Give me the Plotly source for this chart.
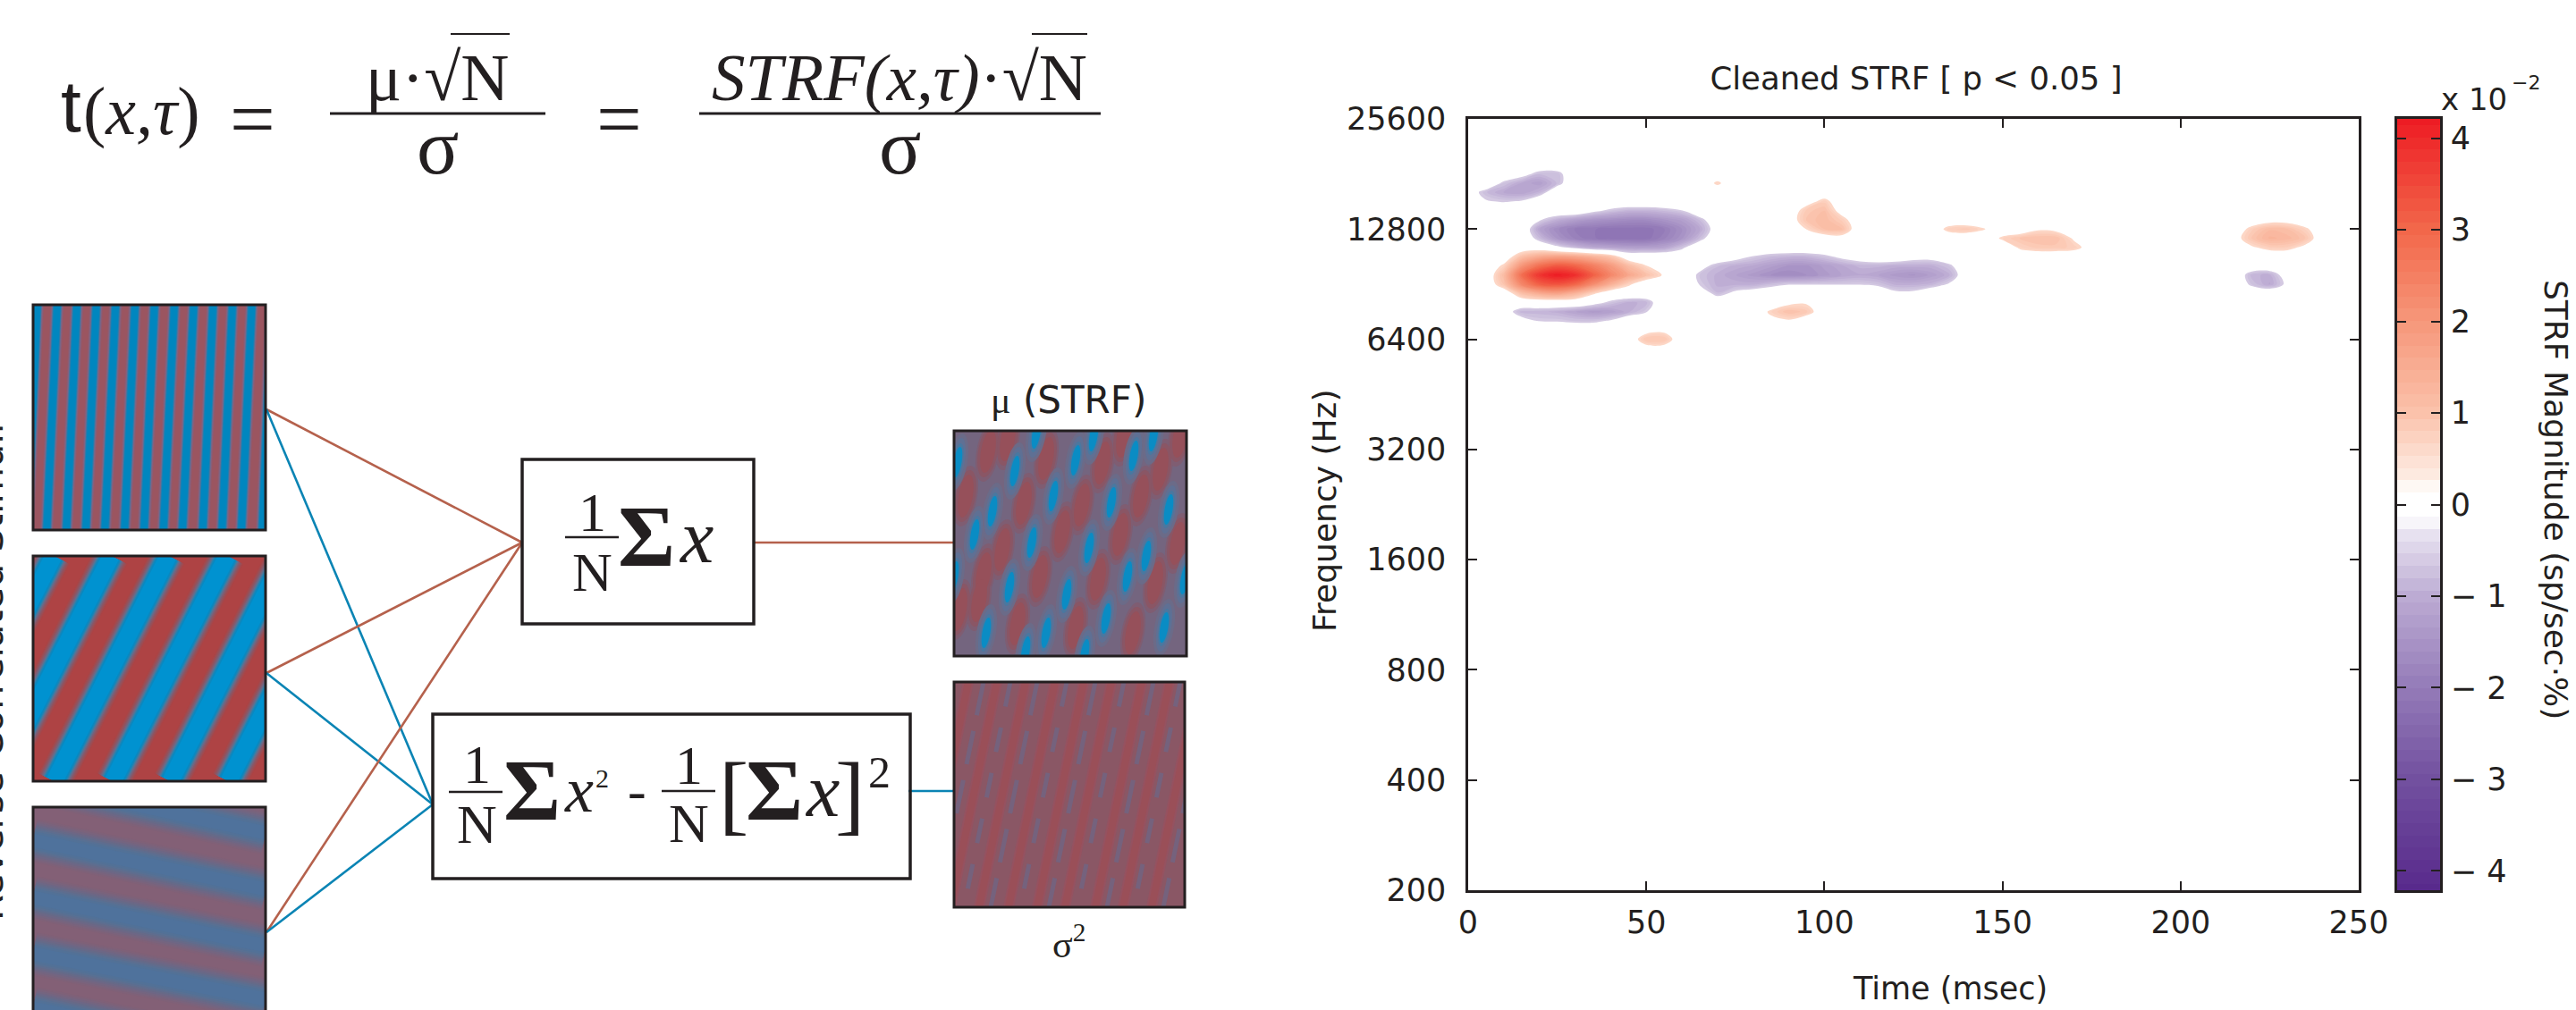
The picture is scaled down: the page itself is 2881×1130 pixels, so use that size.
import numpy as np
import plotly.graph_objects as go

W, H = 2881, 1130
INK = "#231f20"

# ---------- STRF panel data (values in units of 1e-2, in tenths) ----------
TIME_COLS_MS = [5 * i for i in range(49)]
TIME_MS = [-40, -5] + TIME_COLS_MS + [245, 290]
FREQ_ROW_HZ = {-1: 6041, 0: 6400, 1: 6781, 2: 7184, 3: 7611, 4: 8063, 5: 8543, 6: 9051, 7: 9589, 8: 10159,
               9: 10763, 10: 11404, 11: 12082, 12: 12800, 13: 13561, 14: 14368, 15: 15222, 16: 16127,
               17: 17086, 18: 18102, 19: 19178}
OUTER_ROWS_HZ = [100, 5700, 20319, 51200]
# (row, first column, tenths...)
STRF_SEGMENTS = [
    # upper-left purple
    (18, 3, [-3, -8, -8]), (17, 2, [-7, -11, -13, -8]), (16, 0, [-2, -8, -11, -12, -9]), (15, 1, [-5, -6, -5]),
    # dark purple
    (14, 7, [-4, -7, -9, -9, -8, -6]),
    (13, 4, [-5, -10, -13, -15, -16, -17, -17, -15, -13, -8]),
    (12, 4, [-12, -17, -20, -21, -22, -22, -22, -20, -16, -11, -2]),
    (11, 4, [-8, -15, -19, -21, -22, -22, -22, -19, -15, -8]),
    (10, 5, [-4, -8, -11, -12, -13, -13, -12, -7]),
    # red
    (9, 3, [10, 15, 17, 16, 13, 9]),
    (8, 2, [6, 20, 28, 32, 30, 25, 19, 11, 5]),
    (7, 2, [11, 28, 38, 42, 39, 31, 23, 16, 10, 4]),
    (6, 2, [9, 23, 31, 33, 30, 22, 14, 6]),
    (5, 3, [10, 15, 17, 13, 6]),
    # lower purple
    (4, 7, [-3, -7, -10, -9]),
    (3, 2, [-2, -9, -9, -10, -12, -14, -13, -10, -6]),
    (2, 3, [-3, -6, -6, -7, -7, -5]),
    # long purple
    (9, 15, [-3, -6, -8, -9, -9, -7, -4, -2]), (9, 25, [-3, -3]),
    (8, 13, [-3, -8, -10, -11, -13, -15, -15, -13, -11, -9, -9, -10, -10, -10, -7]),
    (7, 13, [-7, -10, -12, -14, -16, -17, -16, -14, -12, -11, -12, -14, -15, -13, -10, -1]),
    (6, 13, [-6, -10, -10, -10, -8, -6, -6, -6, -6, -6, -7, -10, -10, -9, -5]),
    (5, 13, [-1, -8, -4, -2]), (5, 24, [-4, -4]),
    # orange spots
    (0, 10, [9, 9]), (1, 10, [2, 3]), (-1, 10, [2, 2]),
    (3, 17, [6, 10, 8]), (4, 18, [3, 4]), (2, 17, [3, 4]),
    (15, 19, [2, 7]), (14, 19, [8, 10, 2]), (13, 18, [1, 9, 11, 7]), (12, 19, [5, 10, 10]), (11, 20, [1, 2]),
    (12, 27, [7, 8, 5]),
    (11, 30, [6, 9, 10, 10, 4]), (10, 31, [6, 8, 8, 7, 2]), (12, 32, [4, 3]),
    (12, 44, [7, 11, 10, 6]), (11, 43, [2, 9, 13, 12, 9]), (10, 44, [4, 7, 7, 3]), (13, 45, [2, 2]),
    # small purple at right, tiny orange speck
    (7, 44, [-9, -10, -2]), (6, 44, [-7, -11, -4]),
    (17, 14, [6]),
]
FREQ_TICKS = [200, 400, 800, 1600, 3200, 6400, 12800, 25600]
TIME_TICKS = [0, 50, 100, 150, 200, 250]
CBAR_TICKS = [-4, -3, -2, -1, 0, 1, 2, 3, 4]
CBAR_TEXT = ["− 4", "− 3", "− 2", "− 1", "0", "1", "2", "3", "4"]
CBAR_LIM = 4.21
CBAR_VALUES = list(np.linspace(-CBAR_LIM, CBAR_LIM, 64))
COLOR_STOPS = [(-4.21, "#582a8c"), (-3, "#72509f"), (-2, "#947bb8"), (-1, "#bcabd3"), (-0.3, "#e9e4f1"),
               (-0.14, "#ffffff"), (0.14, "#ffffff"), (0.3, "#fdece3"), (1, "#fbc2ab"), (2, "#f6977a"),
               (3, "#f2674a"), (4.21, "#ed1c24")]
CLEAN_STOPS = [(-4.21, "#582a8c"), (-3, "#72509f"), (-2, "#947bb8"), (-1, "#bcabd3"), (-0.56, "#d5cbe3"),
               (-0.55, "#ffffff"), (0.55, "#ffffff"), (0.56, "#fdd8c8"), (1, "#fbc2ab"), (2, "#f6977a"),
               (3, "#f2674a"), (4.21, "#ed1c24")]


def scale(stops):
    return [[(v + CBAR_LIM) / (2 * CBAR_LIM), c] for v, c in stops]


F_HZ = sorted(list(FREQ_ROW_HZ.values()) + OUTER_ROWS_HZ)
z = np.zeros((len(F_HZ), len(TIME_MS)))
for k, i0, vals in STRF_SEGMENTS:
    for j, v in enumerate(vals):
        z[F_HZ.index(FREQ_ROW_HZ[k]), 2 + i0 + j] = v / 10

# ---------- schematic panels: stripe centre lines (page pixels) ----------
PANEL1 = (37, 341, 297, 593)
P1_TOP_X = [41.7, 64, 86, 107.7, 129.3, 151, 172.7, 195, 216.7, 238.3, 260, 281.7, 303.7]
P1_BOT_X = [30.7, 52.3, 74.3, 96, 117.3, 139.3, 161, 182.7, 204, 226.7, 248.3, 270, 293.3]
PANEL2 = (37, 622, 297, 874)
P2_TOP_X = [60, 124.3, 188.3, 254, 318.3, 383.3]
P2_BOT_X = [-68.7, -3.3, 60.7, 126.3, 190.7, 255.7]
PANEL3 = (37, 903, 297, 1157)
P3_LEFT_Y = [875, 940, 1004, 1067, 1128]
P3_RIGHT_Y = [932, 995, 1058, 1118, 1182]
PANEL_MU = (1067, 482, 1327, 734)
MU_BLUE_SPOTS = [(1071, 517), (1135, 527), (1178, 555), (1110, 572), (1243, 562), (1268, 510), (1307, 570),
                 (1090, 598), (1154, 607), (1218, 613), (1282, 622), (1129, 657), (1193, 665), (1261, 645),
                 (1103, 708), (1237, 692), (1302, 702), (1203, 515), (1223, 488), (1159, 485), (1147, 729),
                 (1213, 732), (1325, 648), (1067, 645), (1170, 708), (1290, 488)]
MU_RED_SPOTS = [(1105, 505), (1170, 513), (1233, 518), (1298, 525), (1080, 555), (1145, 563), (1210, 565),
                (1276, 555), (1188, 595), (1253, 598), (1317, 608), (1121, 615), (1100, 642), (1163, 645),
                (1228, 648), (1292, 652), (1095, 672), (1138, 698), (1203, 702), (1267, 708), (1073, 682),
                (1127, 492), (1257, 488), (1320, 488)]
PANEL_SIG = (1067, 763, 1325, 1015)
SIG_GREY_TOP = [1100, 1130, 1160, 1193, 1225, 1257, 1290, 1320, 1353, 1385]
SIG_RED_TOP = [1083, 1115, 1147, 1180, 1212, 1243, 1277, 1308, 1340]
SIG_SLANT = 52

# ---------- connectors and boxes ----------
STIM_OUT_Y = [458, 753, 1043]
STIM_OUT_X = 298
MEAN_IN = (584, 607)
VAR_IN = (484, 900)
MEAN_OUT = (843, 1067, 607)
VAR_OUT = (1016, 1067, 885)
RED, BLUE = "#b5614c", "#0a84b4"
BOXES = [(584, 514, 843, 698), (484, 799, 1018, 983)]

# (text, x, y, size, family, rotation)
SERIF, SANS = "Liberation Serif", "DejaVu Sans"
TEXTS = [
    ("t", 79, 118, 82, "Liberation Sans", 0),
    ("(<i>x,τ</i>)", 158, 124, 76, SERIF, 0),
    ("=", 282, 133, 90, SERIF, 0),
    ("μ·√N", 489, 86, 75, SERIF, 0),
    ("σ", 489, 164, 88, SERIF, 0),
    ("=", 692, 133, 90, SERIF, 0),
    ("<i>STRF(x,τ)</i>·√N", 1006, 86, 75, SERIF, 0),
    ("σ", 1006, 164, 88, SERIF, 0),
    ("1", 662, 573, 62, SERIF, 0),
    ("N", 662, 640, 62, SERIF, 0),
    ("<b>Σ</b>", 723, 600, 98, SERIF, 0),
    ("<i>x</i>", 778, 600, 84, SERIF, 0),
    ("1", 533, 855, 62, SERIF, 0),
    ("N", 533, 922, 62, SERIF, 0),
    ("<b>Σ</b>", 595, 884, 98, SERIF, 0),
    ("<i>x</i>", 647, 884, 72, SERIF, 0),
    ("2", 673, 870, 30, SERIF, 0),
    ("-", 712, 884, 62, SERIF, 0),
    ("1", 770, 856, 62, SERIF, 0),
    ("N", 770, 921, 62, SERIF, 0),
    ("[", 820, 888, 100, SERIF, 0),
    ("<b>Σ</b>", 866, 884, 98, SERIF, 0),
    ("<i>x</i>", 919, 884, 84, SERIF, 0),
    ("]", 950, 888, 100, SERIF, 0),
    ("2", 983, 864, 50, SERIF, 0),
    ("<span style='font-family:Liberation Serif'>μ</span> (STRF)", 1195, 447, 42, SANS, 0),
    ("σ<sup>2</sup>", 1195, 1053, 42, SERIF, 0),
    ("x 10", 2767, 111, 34, SANS, 0),
    ("−2", 2825, 92, 22, SANS, 0),
    ("Time (msec)", 2181, 1106, 35, SANS, 0),
    ("Frequency (Hz)", 1481, 572, 36, SANS, -90),
    ("STRF Magnitude (sp/sec·%)", 2859, 559, 36, SANS, 90),
]
# side label, partly cut off by the page's left edge
SIDE_LABEL = "Reverse-Correlated Stimuli"
RULES = [(369, 610, 127, 3), (782, 1231, 127, 3), (504, 570, 38, 2), (1154, 1216, 38, 2),
         (632, 692, 601, 2.5), (502, 562, 886, 2.5), (740, 800, 885, 2.5)]


def dom_x(a, b):
    return [a / W, b / W]


def dom_y(a, b):
    return [1 - b / H, 1 - a / H]


fig = go.Figure()
layout = dict(
    template="none",
    width=W, height=H, autosize=False, margin=dict(l=0, r=0, t=0, b=0, pad=0),
    paper_bgcolor="white", plot_bgcolor="rgba(0,0,0,0)", showlegend=False, hovermode=False,
    font=dict(family=SANS, color=INK, size=35),
    title=dict(text="Cleaned STRF [ p &lt; 0.05 ]", x=2143 / W, y=1 - 88 / H, xanchor="center", yanchor="middle",
               font=dict(family=SANS, size=35.5, color=INK)),
)
axis_common = dict(automargin=False, showgrid=False, zeroline=False, showline=True, mirror="ticks", ticks="inside",
                   ticklen=10, tickwidth=1.5, tickcolor=INK, linecolor=INK, linewidth=2.5,
                   tickfont=dict(family=SANS, size=35, color=INK))
layout["xaxis"] = dict(axis_common, domain=dom_x(1642, 2638), range=[0, 250], tickvals=TIME_TICKS, anchor="y",
                       ticklabelstandoff=3)
layout["yaxis"] = dict(axis_common, domain=dom_y(133, 996), type="log", range=[np.log10(200), np.log10(25600)],
                       tickvals=FREQ_TICKS, ticktext=[str(t) for t in FREQ_TICKS], anchor="x", ticklabelstandoff=15)
layout["xaxis2"] = dict(automargin=False, showgrid=False, zeroline=False, showline=True, mirror=True, linecolor=INK,
                        linewidth=2.5, ticks="", showticklabels=False, domain=dom_x(2681, 2729), range=[0, 1],
                        anchor="y2")
layout["yaxis2"] = dict(axis_common, domain=dom_y(133, 996), range=[-CBAR_LIM, CBAR_LIM], side="right",
                        tickvals=CBAR_TICKS, ticktext=CBAR_TEXT, anchor="x2", ticklabelstandoff=2)
layout["xaxis3"] = dict(automargin=False, visible=False, domain=[0, 1], range=[0, W], anchor="y3")
layout["yaxis3"] = dict(automargin=False, visible=False, domain=[0, 1], range=[H, 0], anchor="x3")

# main STRF field
fig.add_trace(go.Contour(x=TIME_MS, y=F_HZ, z=z, colorscale=scale(CLEAN_STOPS), zmin=-CBAR_LIM, zmax=CBAR_LIM,
                         contours=dict(coloring="fill", start=-4.2, end=4.2, size=0.13, showlines=False),
                         line=dict(width=0, smoothing=1.0), showscale=False, xaxis="x", yaxis="y", hoverinfo="skip"))
# colour bar
fig.add_trace(go.Heatmap(x=[0, 1], y=CBAR_VALUES, z=[[v, v] for v in CBAR_VALUES], colorscale=scale(COLOR_STOPS),
                         zmin=-CBAR_LIM, zmax=CBAR_LIM, showscale=False, xaxis="x2", yaxis="y2", hoverinfo="skip"))

shapes = []


def line_trace(xs, ys, color, width, xa, ya, dash=None, opacity=1):
    fig.add_trace(go.Scatter(x=xs, y=ys, mode="lines", line=dict(color=color, width=width, dash=dash),
                             opacity=opacity, xaxis=xa, yaxis=ya, hoverinfo="skip"))


# connectors
for y in STIM_OUT_Y:
    line_trace([STIM_OUT_X, MEAN_IN[0]], [y, MEAN_IN[1]], RED, 2.6, "x3", "y3")
    line_trace([STIM_OUT_X, VAR_IN[0]], [y, VAR_IN[1]], BLUE, 2.6, "x3", "y3")
line_trace([MEAN_OUT[0], MEAN_OUT[1]], [MEAN_OUT[2]] * 2, RED, 2.6, "x3", "y3")
line_trace([VAR_OUT[0], VAR_OUT[1]], [VAR_OUT[2]] * 2, BLUE, 2.6, "x3", "y3")
for a, b, y, w in RULES:
    line_trace([a, b], [y, y], INK, w, "x3", "y3")


def panel(n, box, bg):
    x0, y0, x1, y1 = box
    y_end = min(y1, H)
    layout[f"xaxis{n}"] = dict(automargin=False, visible=False, domain=dom_x(x0, x1), range=[x0, x1], anchor=f"y{n}")
    layout[f"yaxis{n}"] = dict(automargin=False, visible=False, domain=dom_y(y0, y_end), range=[y_end, y0], anchor=f"x{n}")
    fig.add_trace(go.Scatter(x=[x0, x1, x1, x0, x0], y=[y0, y0, y_end, y_end, y0], mode="lines", fill="toself",
                             fillcolor=bg, line=dict(width=0), xaxis=f"x{n}", yaxis=f"y{n}", hoverinfo="skip"))


def stripes(n, tops, bots, y0, y1, layers):
    for width, color in layers:
        xs, ys = [], []
        for a, b in zip(tops, bots):
            xs += [a, b, None]
            ys += [y0, y1, None]
        line_trace(xs, ys, color, width, f"x{n}", f"y{n}")


def bands(n, lefts, rights, x0, x1, layers):
    for width, color in layers:
        xs, ys = [], []
        for a, b in zip(lefts, rights):
            xs += [x0, x1, None]
            ys += [a, b, None]
        line_trace(xs, ys, color, width, f"x{n}", f"y{n}")


panel(4, PANEL1, "#9b5560")
stripes(4, P1_TOP_X, P1_BOT_X, PANEL1[1], PANEL1[3],
        [(15, "#915a6c"), (13, "#856280"), (11, "#627094"), (9.5, "#2b7cab"), (7.5, "#0086bf")])
panel(5, PANEL2, "#ae4344")
stripes(5, P2_TOP_X, P2_BOT_X, PANEL2[1], PANEL2[3],
        [(40, "#a84648"), (38, "#a04b50"), (36, "#975059"), (34, "#8c5664"), (32, "#805d72"), (30, "#726681"),
         (28, "#5d7291"), (26, "#3f7ca3"), (24, "#1f84b4"), (22, "#0a88c0"), (19, "#0092d0")])
panel(6, PANEL3, "#836076")
bands(6, P3_LEFT_Y, P3_RIGHT_Y, PANEL3[0], PANEL3[2],
      [(48, "#7f6178"), (44, "#7a637c"), (40, "#746580"), (36, "#6d6785"), (32, "#666a88"), (28, "#5f6d8e"),
       (24, "#587093"), (20, "#527197"), (15, "#4f729c")])
panel(7, PANEL_MU, "#74657f")
panel(8, PANEL_SIG, "#8a5765")
sx0, sy0, sx1, sy1 = PANEL_SIG
stripes(8, SIG_RED_TOP, [t - SIG_SLANT for t in SIG_RED_TOP], sy0, sy1, [(12, "#955260"), (8, "#9a4f58")])
for t, d in zip(SIG_GREY_TOP, ["38px,18px", "28px,24px"] * 5):
    line_trace([t, t - SIG_SLANT], [sy0, sy1], "#6f6685", 5, "x8", "y8", dash=d, opacity=0.75)


def spot(cx, cy, rx, ry, color, n):
    # a sheared ellipse: leans right towards the top, as the spots do in the picture
    tilt = 0.16
    kx, ky = 0.55 * rx, 0.55 * ry
    sx = lambda x, y: x - tilt * (y - cy)
    pts = [(cx, cy - ry), (cx + kx, cy - ry), (cx + rx, cy - ky), (cx + rx, cy), (cx + rx, cy + ky), (cx + kx, cy + ry),
           (cx, cy + ry), (cx - kx, cy + ry), (cx - rx, cy + ky), (cx - rx, cy), (cx - rx, cy - ky), (cx - kx, cy - ry),
           (cx, cy - ry)]
    s = [f"{sx(x, y):.1f} {y:.1f}" for x, y in pts]
    path = f"M {s[0]} C {s[1]} {s[2]} {s[3]} C {s[4]} {s[5]} {s[6]} C {s[7]} {s[8]} {s[9]} C {s[10]} {s[11]} {s[12]} Z"
    shapes.append(dict(type="path", path=path, xref=f"x{n}", yref=f"y{n}", fillcolor=color, line=dict(width=0),
                       layer="above"))


for r, c in [((13, 34), "#7f5d72"), ((11, 29), "#8a5665"), ((8, 24), "#96505a")]:
    for cx, cy in MU_RED_SPOTS:
        spot(cx, cy, r[0], r[1], c, 7)
for r, c in [((11, 32), "#6b6b88"), ((8, 27), "#5f7094"), ((6, 21), "#4a78a0"), ((4.5, 17), "#0a8cc4")]:
    for cx, cy in MU_BLUE_SPOTS:
        spot(cx, cy, r[0], r[1], c, 7)

# frames
for box in [PANEL1, PANEL2, PANEL3, PANEL_MU, PANEL_SIG]:
    shapes.append(dict(type="rect", xref="x3", yref="y3", x0=box[0], x1=box[2], y0=box[1], y1=box[3],
                       line=dict(color=INK, width=3), fillcolor="rgba(0,0,0,0)", layer="above"))
for box in BOXES:
    shapes.append(dict(type="rect", xref="x3", yref="y3", x0=box[0], x1=box[2], y0=box[1], y1=box[3],
                       line=dict(color=INK, width=3.5), fillcolor="rgba(0,0,0,0)", layer="above"))

annotations = [dict(text=t, x=x, y=y, xref="x3", yref="y3", showarrow=False, xanchor="center", yanchor="middle",
                    textangle=rot, font=dict(family=fam, size=s, color=INK)) for t, x, y, s, fam, rot in TEXTS]
annotations.append(dict(text=SIDE_LABEL, x=0, y=752, xref="x3", yref="y3", xshift=-12, showarrow=False,
                        xanchor="center", yanchor="middle", textangle=-90, font=dict(family=SANS, size=41.5, color=INK)))

fig.update_layout(**layout, shapes=shapes, annotations=annotations)
fig.write_html("out.html", config={"displayModeBar": False},
               post_script="document.body.style.margin='0';document.body.style.overflow='hidden';")
